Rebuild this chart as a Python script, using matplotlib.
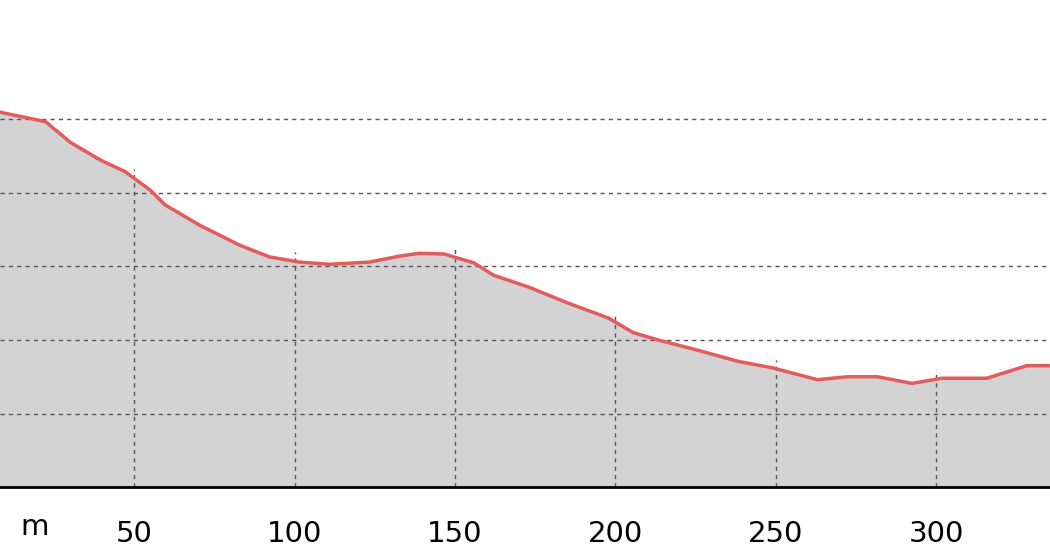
import matplotlib
matplotlib.use("Agg")
import matplotlib.pyplot as plt
import numpy as np

distance = [8.2, 22.4, 30.1, 39.4, 47.2, 55.0, 59.6, 70.5, 82.9, 92.2, 101.6, 110.9,
            123.3, 132.6, 138.8, 146.6, 155.9, 162.1, 173.0, 185.4, 197.8, 205.6, 213.4,
            225.8, 238.2, 249.1, 263.0, 272.4, 281.7, 292.5, 301.9, 315.8, 328.3, 335.5]
elevation = [5.10, 4.97, 4.69, 4.45, 4.29, 4.04, 3.84, 3.56, 3.29, 3.13, 3.06, 3.03,
             3.06, 3.14, 3.18, 3.17, 3.05, 2.88, 2.72, 2.50, 2.30, 2.10, 2.00,
             1.86, 1.71, 1.62, 1.46, 1.50, 1.50, 1.41, 1.48, 1.48, 1.65, 1.65]
x_ticks = [50, 100, 150, 200, 250, 300]
y_grid = [1, 2, 3, 4, 5]

fig = plt.figure(figsize=(10.5, 5.6), dpi=100)
ax = fig.add_axes([0, 73 / 560, 1, 1 - 73 / 560])
ax.set_xlim(8.2, 335.5)
ax.set_ylim(0, 487 / 73.5)

ax.fill_between(distance, elevation, 0, color="#d3d3d3", zorder=1)
for y in y_grid:
    ax.axhline(y, color="#555555", lw=1, ls=(0, (3, 3)), zorder=2)
for x in x_ticks:
    top = np.interp(x, distance, elevation) + 0.12
    ax.vlines(x, 0, top, color="#555555", lw=1, ls=(0, (3, 3)), zorder=2)
ax.plot(distance, elevation, color="#e8595b", lw=2.5, zorder=3)

for s in ["top", "left", "right"]:
    ax.spines[s].set_visible(False)
ax.spines["bottom"].set_linewidth(2)
ax.set_yticks([])
ax.set_xticks(x_ticks)
ax.tick_params(axis="x", length=0, labelsize=21, pad=24)
ax.text(35 / 1050, -40 / 487, "m", transform=ax.transAxes, fontsize=21,
        ha="center", va="center")

fig.savefig("out.png", dpi=100)
